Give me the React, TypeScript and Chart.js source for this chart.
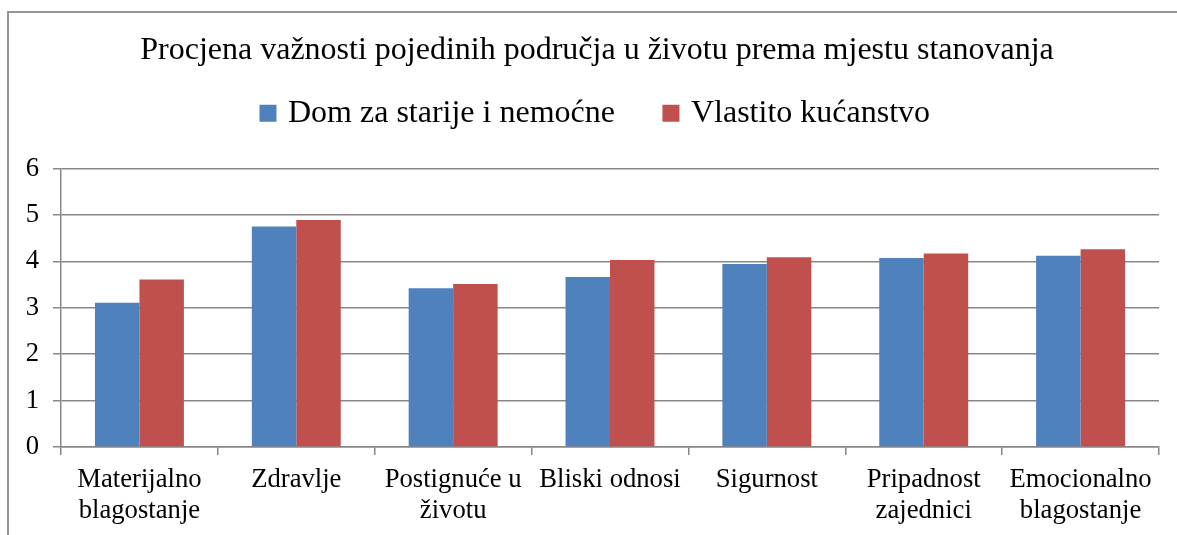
import { useEffect, useRef } from "react";
import { Chart, registerables } from "chart.js";

Chart.register(...registerables);

const titleText = "Procjena važnosti pojedinih područja u životu prema mjestu stanovanja";
const categories: (string | string[])[] = [
  ["Materijalno", "blagostanje"],
  "Zdravlje",
  ["Postignuće u", "životu"],
  "Bliski odnosi",
  "Sigurnost",
  ["Pripadnost", "zajednici"],
  ["Emocionalno", "blagostanje"],
];
const seriesNames = ["Dom za starije i nemoćne", "Vlastito kućanstvo"];
const domValues = [3.11, 4.75, 3.42, 3.66, 3.94, 4.07, 4.12];
const vlastitoValues = [3.61, 4.89, 3.51, 4.03, 4.09, 4.17, 4.26];
const yTicks = [0, 1, 2, 3, 4, 5, 6];

const FONT = "'Liberation Serif', 'Times New Roman', serif";
const GRID = "#878787";

export default function App() {
  const ref = useRef<HTMLCanvasElement>(null);

  useEffect(() => {
    if (!ref.current) return;
    const chart = new Chart(ref.current, {
      type: "bar",
      data: {
        labels: categories,
        datasets: [
          {
            label: seriesNames[0],
            data: domValues,
            backgroundColor: "#4F81BD",
            borderWidth: 0,
            categoryPercentage: 0.567,
            barPercentage: 1,
            xAxisID: "x",
            yAxisID: "y",
          },
          {
            label: seriesNames[1],
            data: vlastitoValues,
            backgroundColor: "#C0504D",
            borderWidth: 0,
            categoryPercentage: 0.567,
            barPercentage: 1,
            xAxisID: "x",
            yAxisID: "y",
          },
        ],
      },
      options: {
        responsive: false,
        animation: false,
        layout: { padding: 0 },
        plugins: {
          title: {
            display: true,
            text: titleText,
            color: "#000",
            font: { family: FONT, size: 32, weight: "normal", lineHeight: 1.2 },
            padding: { top: 18, bottom: -24.2 },
          },
          legend: {
            display: true,
            position: "top",
            labels: {
              color: "#000",
              font: { family: FONT, size: 32, lineHeight: 1.2 },
              usePointStyle: true,
              pointStyle: "rect",
              boxWidth: 8,
              boxHeight: 17,
              padding: 52,
            },
          },
          // empty spacer box between the legend and the plot area
          subtitle: {
            display: true,
            text: "",
            weight: 500,
            font: { family: FONT, size: 10, lineHeight: 1 },
            padding: { top: 0, bottom: 19.3 },
          },
          tooltip: { enabled: false },
        },
        scales: {
          x: {
            grid: {
              display: true,
              drawOnChartArea: false,
              drawTicks: true,
              tickLength: 8,
              color: GRID,
              lineWidth: 1.5,
              offset: true,
            },
            border: { display: true, color: GRID, width: 1.5 },
            ticks: {
              color: "#000",
              font: { family: FONT, size: 26.67, lineHeight: 1.15 },
              padding: 10,
              maxRotation: 0,
              autoSkip: false,
            },
            afterFit: (s: any) => {
              s.height = 88;
            },
          },
          y: {
            position: "left",
            min: 0,
            max: 6,
            grid: { color: GRID, lineWidth: 1.5, tickLength: 8 },
            border: { display: true, color: GRID, width: 1.5 },
            ticks: {
              color: "#000",
              font: { family: FONT, size: 26.67 },
              padding: 14,
              stepSize: 1,
            },
            afterBuildTicks: (s: any) => {
              s.ticks = yTicks.map((v) => ({ value: v }));
            },
            afterFit: (s: any) => {
              s.width = 51;
            },
          },
          // invisible right-hand spacer so the plot area ends before the frame edge
          ySpacer: {
            type: "linear",
            position: "right",
            display: true,
            grid: { display: false },
            border: { display: false },
            ticks: { display: false },
            afterFit: (s: any) => {
              s.width = 25;
            },
          },
        },
      },
    });
    return () => chart.destroy();
  }, []);

  return (
    <div
      style={{
        position: "fixed",
        left: 0,
        top: 0,
        width: 1177,
        height: 535,
        overflow: "hidden",
        background: "#fff",
      }}
    >
      <div
        style={{
          position: "absolute",
          left: 7,
          top: 11,
          width: 1300,
          height: 700,
          borderLeft: "2px solid #959595",
          borderTop: "2px solid #959595",
        }}
      />
      <canvas
        ref={ref}
        width={1174}
        height={522}
        style={{ position: "absolute", left: 10, top: 13 }}
      />
    </div>
  );
}
